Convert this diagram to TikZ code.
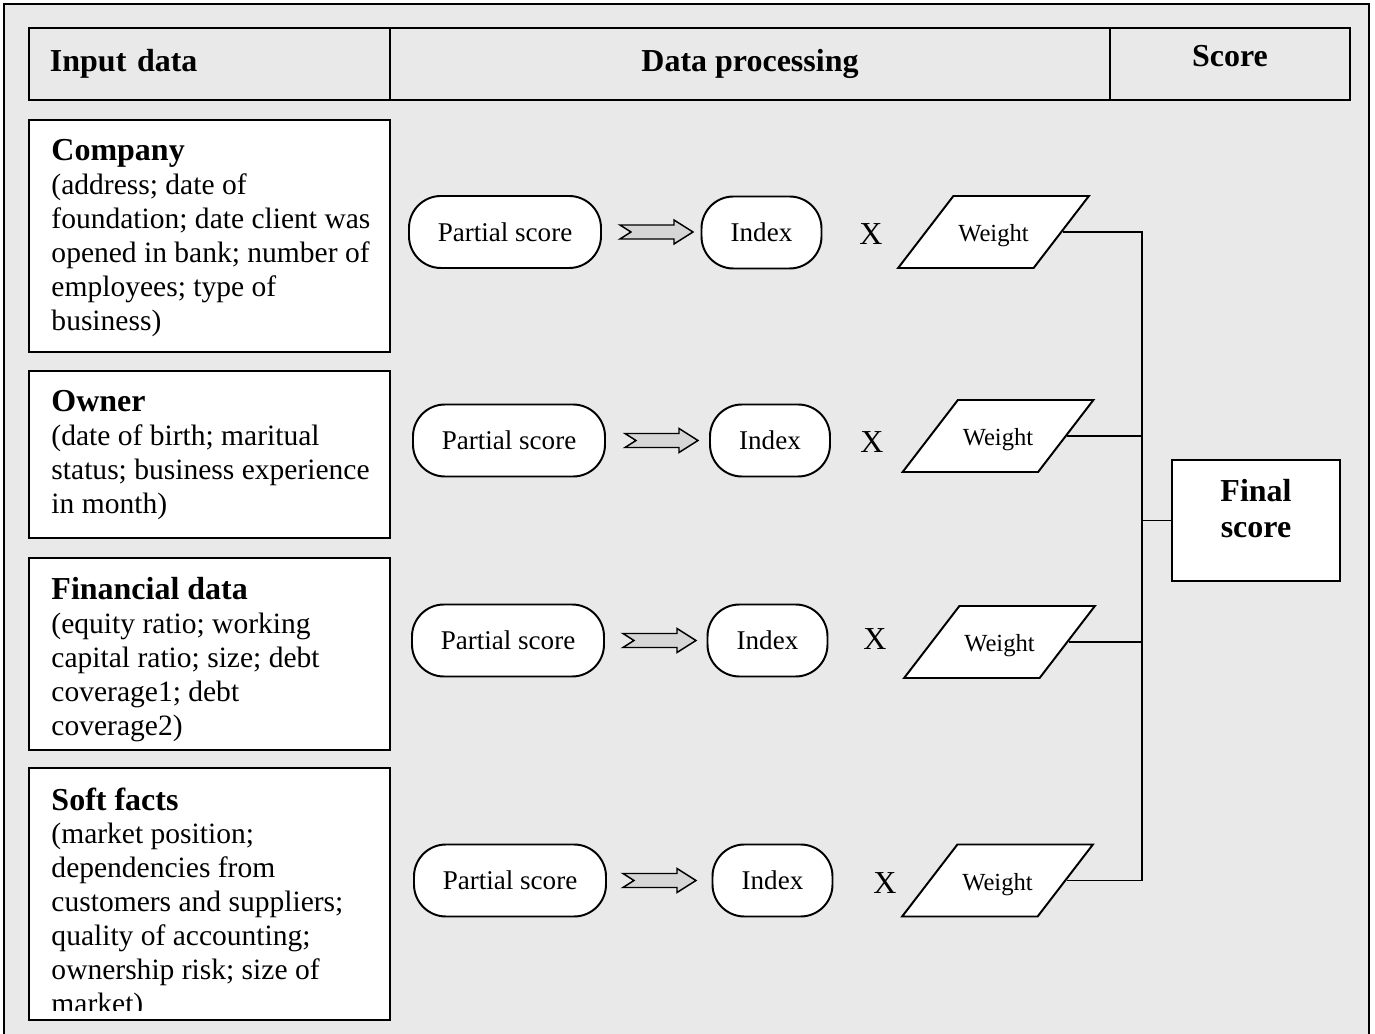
\documentclass[tikz,border=0pt]{standalone}
\usepackage{fontspec}
\setmainfont{Liberation Serif}
\usepackage{xcolor}
\usetikzlibrary{shapes.geometric}

\definecolor{panelgray}{RGB}{233,233,233}
\definecolor{arrowgray}{RGB}{214,214,214}

\tikzset{
  headcell/.style={draw, line width=0.8pt, minimum height=29.27pt, inner sep=0pt,
    font=\fontsize{13}{15}\selectfont\bfseries},
  inputbox/.style={draw, line width=0.8pt, fill=white, minimum width=146.75pt, inner sep=0pt},
  inputtext/.style={anchor=north west, inner sep=0pt, align=left,
    font=\fontsize{12}{13.8}\selectfont},
  scorebox/.style={draw, line width=0.8pt, fill=white, rounded corners=13pt,
    minimum width=78.05pt, minimum height=29.27pt, font=\fontsize{11}{13}\selectfont},
  indexbox/.style={scorebox, minimum width=48.78pt},
  weightbox/.style={draw, line width=0.8pt, fill=white, trapezium,
    trapezium left angle=56, trapezium right angle=124, trapezium stretches=true,
    text height=8.6pt, text depth=0.6pt, inner xsep=0pt, inner ysep=10.03pt,
    minimum width=78.05pt, minimum height=29.27pt,
    font=\fontsize{10}{12}\selectfont},
  timesmark/.style={inner sep=0pt, font=\fontsize{13}{15}\selectfont},
  finalbox/.style={draw, line width=0.8pt, fill=white, minimum width=68.29pt, minimum height=49.19pt},
  link/.style={line width=0.8pt},
  fatarrow/.pic={
    \draw[fill=arrowgray, line width=0.6pt] (0,-7) -- (54,-7) -- (54,-12) -- (73,0)
      -- (54,12) -- (54,7) -- (0,7) -- (11,0) -- cycle;
  }
}

\begin{document}
\begin{tikzpicture}[x=0.4065pt, y=-0.4065pt]
  \useasboundingbox (0,0) rectangle (1375,1034);

  % Panel
  \fill[panelgray] (4,4) rectangle (1369,1034);
  \draw[line width=0.8pt] (4,1034) -- (4,4) -- (1369,4) -- (1369,1034);

  % Header row
  \node[headcell, minimum width=146.75pt, text width=129.7pt, inner xsep=8.54pt, align=left]
    (inputhead) at (209.5,64) {Input data};
  \node[headcell, minimum width=292.7pt] (prochead) at (750,64) {Data processing};
  \node[headcell, minimum width=97.56pt, text depth=6.5pt] (scorehead) at (1230,64) {Score};

  % Input data: Company
  \node[inputbox, minimum height=94.31pt] (company) at (209.5,236) {};
  \node[inputtext] (companytext) at (51,139) {{\fontsize{13}{13.8}\selectfont\bfseries Company}\\
    (address; date of\\ foundation; date client was\\ opened in bank; number of\\
    employees; type of\\ business)};

  % Input data: Owner
  \node[inputbox, minimum height=67.89pt] (owner) at (209.5,454.5) {};
  \node[inputtext] (ownertext) at (51,390) {{\fontsize{13}{13.8}\selectfont\bfseries Owner}\\
    (date of birth; maritual\\ status; business experience\\ in month)};

  % Input data: Financial data
  \node[inputbox, minimum height=78.05pt] (financial) at (209.5,654) {};
  \node[inputtext] (financialtext) at (51,577) {{\fontsize{13}{13.8}\selectfont\bfseries Financial data}\\
    (equity ratio; working\\ capital ratio; size; debt\\ coverage1; debt\\ coverage2)};

  % Input data: Soft facts
  \node[inputbox, minimum height=102.44pt] (soft) at (209.5,894) {};
  \begin{scope}
    \clip (29,768) rectangle (390,1010);
    \node[inputtext] (softtext) at (51,787) {{\fontsize{13}{13.8}\selectfont\bfseries Soft facts}\\
      (market position;\\ dependencies from\\ customers and suppliers;\\
      quality of accounting;\\ ownership risk; size of\\ market)};
  \end{scope}

  % Row 1
  \node[scorebox] (ps1) at (505,232) {Partial score};
  \node[indexbox] (ix1) at (761.5,232.5) {Index};
  \node[timesmark] (x1) at (871,234) {X};
  \node[weightbox] (w1) at (993.5,232) {Weight};
  \path (ps1.east) ++(18,0) pic {fatarrow};

  % Row 2
  \node[scorebox] (ps2) at (509,440.5) {Partial score};
  \node[indexbox] (ix2) at (770,440.5) {Index};
  \node[timesmark] (x2) at (872,442) {X};
  \node[weightbox] (w2) at (998,436) {Weight};
  \path (ps2.east) ++(19,0) pic {fatarrow};

  % Row 3
  \node[scorebox] (ps3) at (508,640.5) {Partial score};
  \node[indexbox] (ix3) at (767.5,640.5) {Index};
  \node[timesmark] (x3) at (875,639) {X};
  \node[weightbox] (w3) at (999.5,642) {Weight};
  \path (ps3.east) ++(18,0) pic {fatarrow};

  % Row 4
  \node[scorebox] (ps4) at (510,880.5) {Partial score};
  \node[indexbox] (ix4) at (772.5,880.5) {Index};
  \node[timesmark] (x4) at (885,883) {X};
  \node[weightbox] (w4) at (997.5,880.5) {Weight};
  \path (ps4.east) ++(16,0) pic {fatarrow};

  % Final score
  \node[finalbox] (final) at (1256,520.5) {};
  \node[align=center, inner sep=0pt, font=\fontsize{13}{14.6}\selectfont\bfseries]
    (finaltext) at (1256,509) {Final\\score};

  % Connectors
  \coordinate (spine) at (1142,0);
  \draw[link] (w1.east) -- (w1.east -| spine) -- (w4.east -| spine) -- (w4.east);
  \draw[link] (w2.east) -- (w2.east -| spine);
  \draw[link] (w3.east) -- (w3.east -| spine);
  \draw[link] (final.west) -- (final.west -| spine);
\end{tikzpicture}
\end{document}
